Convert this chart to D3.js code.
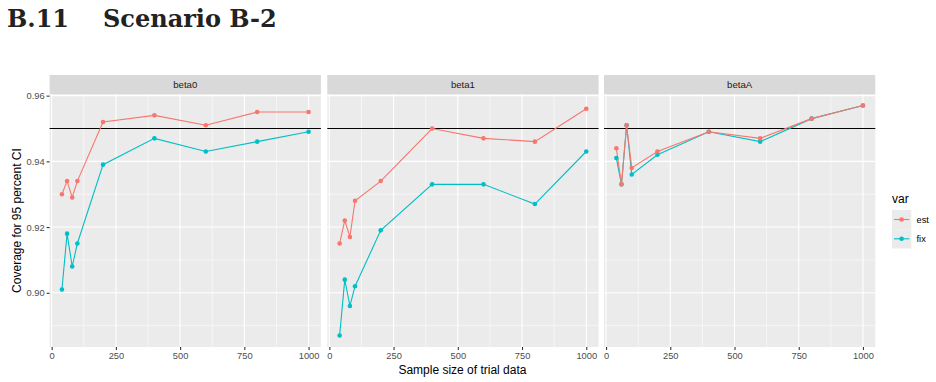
<!DOCTYPE html>
<html><head><meta charset="utf-8">
<script src="https://cdn.jsdelivr.net/npm/d3@7"></script>
<style>body{margin:0;background:#fff;} svg{display:block;}</style>
</head><body>
<svg id="c" width="936" height="382"></svg>
<script>
const sampleSizes = [40, 60, 80, 100, 200, 400, 600, 800, 1000];
const panels = ["beta0", "beta1", "betaA"];
const seriesNames = ["est", "fix"];
const beta0_est = [0.930, 0.934, 0.929, 0.934, 0.952, 0.954, 0.951, 0.955, 0.955];
const beta0_fix = [0.901, 0.918, 0.908, 0.915, 0.939, 0.947, 0.943, 0.946, 0.949];
const beta1_est = [0.915, 0.922, 0.917, 0.928, 0.934, 0.950, 0.947, 0.946, 0.956];
const beta1_fix = [0.887, 0.904, 0.896, 0.902, 0.919, 0.933, 0.933, 0.927, 0.943];
const betaA_est = [0.944, 0.933, 0.951, 0.938, 0.943, 0.949, 0.947, 0.953, 0.957];
const betaA_fix = [0.941, 0.933, 0.951, 0.936, 0.942, 0.949, 0.946, 0.953, 0.957];
const xTicks = [0, 250, 500, 750, 1000];
const xMinor = [125, 375, 625, 875];
const yTicks = [0.90, 0.92, 0.94, 0.96];
const yMinor = [0.89, 0.91, 0.93, 0.95];
const refLine = 0.95;
const colors = {est: "#F8766D", fix: "#00BFC4"};
const data = {
  beta0: {est: beta0_est, fix: beta0_fix},
  beta1: {est: beta1_est, fix: beta1_fix},
  betaA: {est: betaA_est, fix: betaA_fix}
};

const svg = d3.select("#c");
const font = "'Liberation Sans', Arial, sans-serif";
const serif = "'DejaVu Serif', serif";

svg.append("text").attr("x", 7).attr("y", 26.5)
  .attr("font-family", serif).attr("font-weight", "bold")
  .attr("font-size", 24).attr("fill", "#222").text("B.11");
svg.append("text").attr("x", 103).attr("y", 26.5)
  .attr("font-family", serif).attr("font-weight", "bold")
  .attr("font-size", 24).attr("fill", "#222").text("Scenario B-2");

const panelLefts = [49.6, 327.3, 604];
const panelW = 271.3;
const stripTop = 75, plotTop = 94, plotBottom = 347;

const y = d3.scaleLinear().domain([0.8835, 0.9605]).range([plotBottom, plotTop]);

panels.forEach((p, i) => {
  const x0 = panelLefts[i];
  const x = d3.scaleLinear().domain([-8, 1048]).range([x0, x0 + panelW]);
  const g = svg.append("g");
  g.append("rect").attr("x", x0).attr("y", stripTop).attr("width", panelW).attr("height", plotTop - stripTop).attr("fill", "#d9d9d9");
  g.append("text").attr("x", x0 + panelW / 2).attr("y", (stripTop + plotTop) / 2 + 3.4)
    .attr("text-anchor", "middle").attr("font-family", font).attr("font-size", 9.6).attr("fill", "#1a1a1a").text(p);
  g.append("rect").attr("x", x0).attr("y", plotTop).attr("width", panelW).attr("height", plotBottom - plotTop).attr("fill", "#ebebeb");
  yMinor.forEach(v => g.append("line").attr("x1", x0).attr("x2", x0 + panelW).attr("y1", y(v)).attr("y2", y(v)).attr("stroke", "#fff").attr("stroke-width", 0.55));
  xMinor.forEach(v => g.append("line").attr("x1", x(v)).attr("x2", x(v)).attr("y1", plotTop).attr("y2", plotBottom).attr("stroke", "#fff").attr("stroke-width", 0.55));
  yTicks.forEach(v => g.append("line").attr("x1", x0).attr("x2", x0 + panelW).attr("y1", y(v)).attr("y2", y(v)).attr("stroke", "#fff").attr("stroke-width", 1.1));
  xTicks.forEach(v => g.append("line").attr("x1", x(v)).attr("x2", x(v)).attr("y1", plotTop).attr("y2", plotBottom).attr("stroke", "#fff").attr("stroke-width", 1.1));

  const xa = g.append("g").attr("transform", `translate(0,${plotBottom})`)
    .call(d3.axisBottom(x).tickValues(xTicks).tickSize(3).tickPadding(2).tickFormat(d3.format("d")));
  xa.select(".domain").remove();
  xa.selectAll("line").attr("stroke", "#333").attr("stroke-width", 1.1);
  xa.selectAll("text").attr("font-family", font).attr("font-size", 9.3).attr("fill", "#4d4d4d");

  if (i === 0) {
    const ya = g.append("g").attr("transform", `translate(${x0},0)`)
      .call(d3.axisLeft(y).tickValues(yTicks).tickSize(3).tickPadding(2).tickFormat(d3.format(".2f")));
    ya.select(".domain").remove();
    ya.selectAll("line").attr("stroke", "#333").attr("stroke-width", 1.1);
    ya.selectAll("text").attr("font-family", font).attr("font-size", 9.3).attr("fill", "#4d4d4d");
  }

  g.append("line").attr("x1", x0).attr("x2", x0 + panelW).attr("y1", y(refLine)).attr("y2", y(refLine)).attr("stroke", "#000").attr("stroke-width", 1.1);

  const line = d3.line().x((d, k) => x(sampleSizes[k])).y(d => y(d));
  ["fix", "est"].forEach(s => {
    g.append("path").datum(data[p][s]).attr("d", line).attr("fill", "none").attr("stroke", colors[s]).attr("stroke-width", 1.1);
  });
  ["fix", "est"].forEach(s => {
    g.selectAll(null).data(data[p][s]).enter().append("circle")
      .attr("cx", (d, k) => x(sampleSizes[k])).attr("cy", d => y(d)).attr("r", 2.3).attr("fill", colors[s]);
  });
});

svg.append("text").attr("x", (panelLefts[0] + panelLefts[2] + panelW) / 2).attr("y", 374)
  .attr("text-anchor", "middle").attr("font-family", font).attr("font-size", 12).attr("fill", "#000").text("Sample size of trial data");
svg.append("text").attr("transform", `translate(21,${(plotTop + plotBottom) / 2}) rotate(-90)`)
  .attr("text-anchor", "middle").attr("font-family", font).attr("font-size", 12).attr("fill", "#000").text("Coverage for 95 percent CI");

const lg = svg.append("g");
lg.append("text").attr("x", 892).attr("y", 203).attr("font-family", font).attr("font-size", 12).attr("fill", "#000").text("var");
seriesNames.forEach((s, k) => {
  const cy = 219.5 + k * 19.3;
  lg.append("rect").attr("x", 892).attr("y", cy - 9.6).attr("width", 19.3).attr("height", 19.3).attr("fill", "#ebebeb");
  lg.append("line").attr("x1", 894).attr("x2", 909.3).attr("y1", cy).attr("y2", cy).attr("stroke", colors[s]).attr("stroke-width", 1.1);
  lg.append("circle").attr("cx", 901.6).attr("cy", cy).attr("r", 2.3).attr("fill", colors[s]);
  lg.append("text").attr("x", 916.5).attr("y", cy + 3.3).attr("font-family", font).attr("font-size", 9.3).attr("fill", "#000").text(s);
});
</script>
</body></html>
